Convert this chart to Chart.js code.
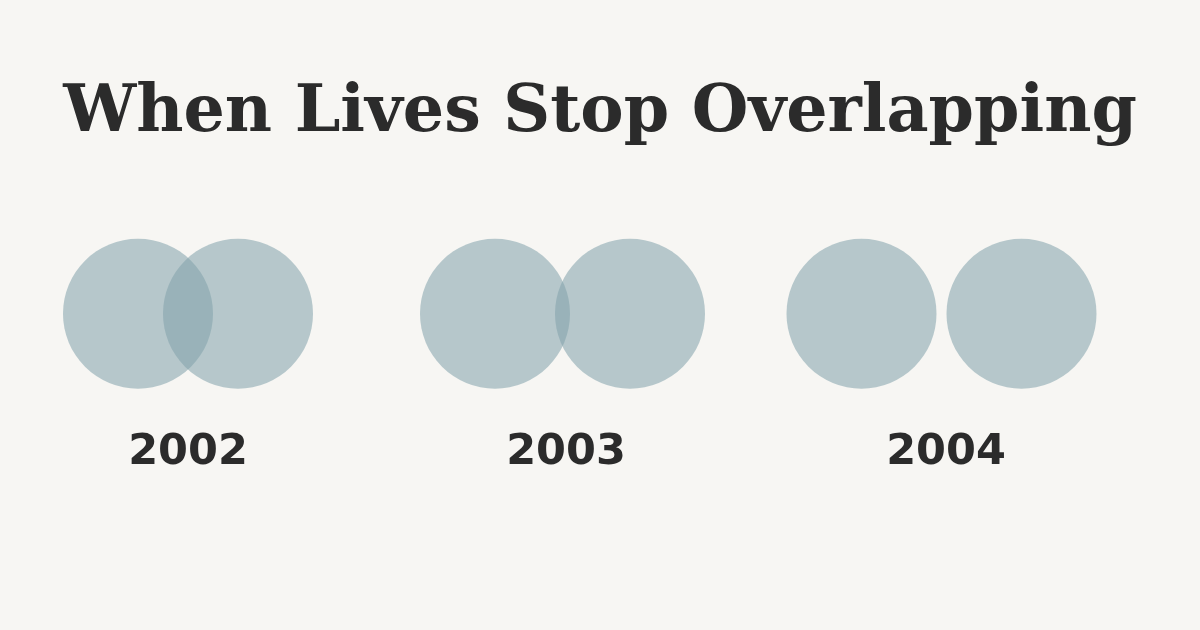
<!DOCTYPE html>
<html>
<head>
<meta charset="utf-8">
<script src="https://cdn.jsdelivr.net/npm/chart.js@4.4.1/dist/chart.umd.min.js"></script>
<style>
  html, body { margin: 0; padding: 0; background: #f7f6f3; }
  #wrap { width: 1200px; height: 630px; }
</style>
</head>
<body>
<div id="wrap"><canvas id="c" width="1200" height="630"></canvas></div>
<script>
// ---- data ----
const titleText = 'When Lives Stop Overlapping';
const years = ['2002', '2003', '2004'];
const yearTickX = [188, 566, 946];        // label positions on x scale
const leftCircleX = [138, 495, 861.5];    // centre of first circle per year
const rightCircleX = [238, 630, 1021.5];  // centre of second circle per year

// ---- styling ----
const bg = '#f7f6f3';
const ink = '#2b2b2b';
const circleFill = 'rgba(130,162,172,0.56)';
const titleFamily = "'DejaVu Serif', serif";
const labelFamily = "'DejaVu Sans', sans-serif";

// fit title width
const mctx = document.createElement('canvas').getContext('2d');
mctx.font = `bold 100px ${titleFamily}`;
const w100 = mctx.measureText(titleText).width;
const titleSize = Math.round(100 * 1073 / w100 * 10) / 10;
const titleMid = 114;
const plotTop = 227;

const points = [];
years.forEach((y, i) => {
  points.push({ x: leftCircleX[i], y: 0 });
  points.push({ x: rightCircleX[i], y: 0 });
});

const bgPlugin = {
  id: 'bg',
  beforeDraw(chart) {
    const ctx = chart.ctx;
    ctx.save();
    ctx.fillStyle = bg;
    ctx.fillRect(0, 0, chart.width, chart.height);
    ctx.restore();
  }
};

new Chart(document.getElementById('c'), {
  type: 'scatter',
  data: {
    datasets: [{
      data: points,
      backgroundColor: circleFill,
      borderWidth: 0,
      pointRadius: 75,
      pointHoverRadius: 75,
      clip: false
    }]
  },
  options: {
    responsive: false,
    animation: false,
    events: [],
    layout: { autoPadding: false, padding: { left: 0, right: 0, top: 0, bottom: 124 } },
    plugins: {
      legend: { display: false },
      tooltip: { enabled: false },
      title: {
        display: true,
        text: titleText,
        color: ink,
        font: { family: titleFamily, size: titleSize, weight: 'bold', lineHeight: 1.2 },
        padding: { top: titleMid - 0.6 * titleSize, bottom: plotTop - (titleMid - 0.6 * titleSize) - 1.2 * titleSize }
      }
    },
    scales: {
      x: {
        type: 'linear',
        min: 0,
        max: 1200,
        grid: { display: false, drawTicks: false },
        border: { display: false },
        afterBuildTicks(scale) {
          scale.ticks = yearTickX.map(v => ({ value: v }));
        },
        ticks: {
          autoSkip: false,
          maxRotation: 0,
          padding: 27,
          color: ink,
          font: { family: labelFamily, size: 43, weight: 'bold', lineHeight: 1.2 },
          callback(value) {
            const i = yearTickX.indexOf(value);
            return i >= 0 ? years[i] : '';
          }
        }
      },
      y: {
        display: false,
        min: -1,
        max: 1
      }
    }
  },
  plugins: [bgPlugin]
});
</script>
</body>
</html>
